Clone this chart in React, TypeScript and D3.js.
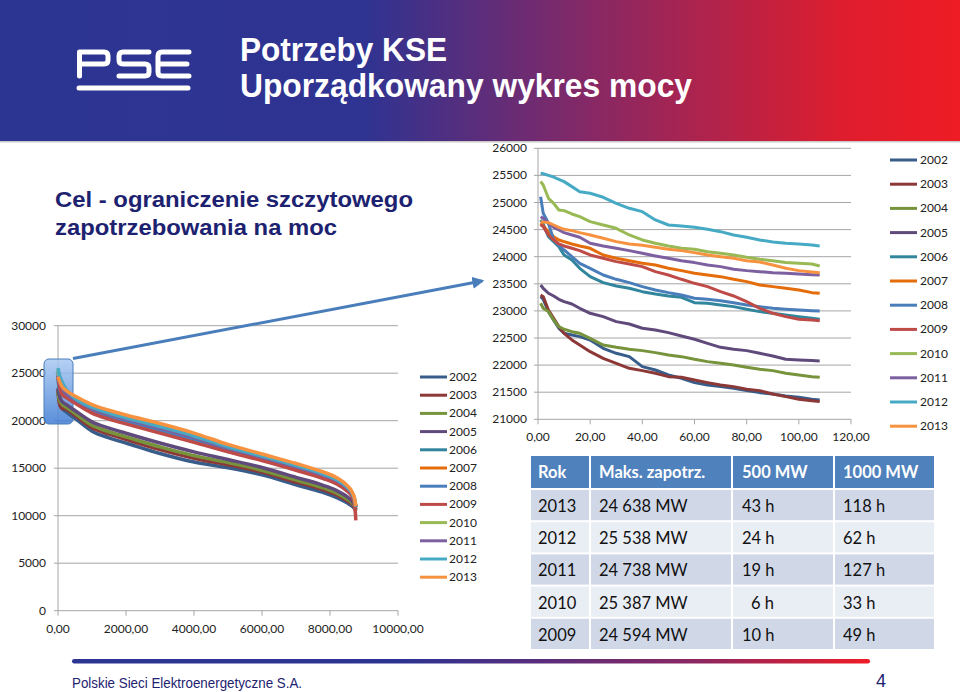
import React, { useEffect } from 'react';
import * as d3 from 'd3';

const YEARS = ['2002', '2003', '2004', '2005', '2006', '2007', '2008', '2009', '2010', '2011', '2012', '2013'];
const COLORS = ['#385D8A', '#8C3836', '#77933C', '#5F4A7B', '#31859C', '#E46C0A', '#4A7EBB', '#BE4B48', '#98B954', '#7D60A0', '#46AAC5', '#F69240'];

// Left chart: ordered load curve over the whole year (hours)
const LEFT_HOURS = [0, 30, 100, 250, 500, 1000, 1500, 2000, 3000, 4000, 5000, 6000, 7000, 7800, 8200, 8500, 8650, 8730, 8760];
const L2002 = [23200, 22220, 21400, 20900, 20250, 18900, 18200, 17650, 16550, 15650, 15050, 14300, 13250, 12450, 11900, 11350, 11000, 10700, 10500];
const L2003 = [23300, 22033, 21350, 21190, 20560, 19260, 18580, 18030, 16960, 16050, 15370, 14590, 13540, 12730, 12170, 11590, 11200, 10830, 10560];
const L2004 = [23130, 22328, 21800, 21395, 20770, 19520, 18840, 18300, 17240, 16320, 15590, 14780, 13750, 12920, 12360, 11760, 11330, 10920, 10610];
const L2005 = [23480, 22802, 22095, 21690, 21070, 19880, 19215, 18680, 17650, 16720, 15910, 15070, 14040, 13200, 12635, 12000, 11525, 11050, 10680];
const L2006 = [24680, 23460, 22880, 22520, 21940, 20920, 20290, 19770, 18820, 17850, 16810, 15880, 14870, 14000, 13410, 12680, 12080, 11420, 10860];
const L2007 = [24620, 23970, 23390, 22590, 22010, 21000, 20375, 19860, 18910, 17940, 16890, 15950, 14940, 14060, 13475, 12740, 12125, 11450, 10880];
const L2008 = [25130, 23583, 23017, 22655, 22080, 21080, 20460, 19950, 19010, 18030, 16960, 16020, 15000, 14130, 13540, 12790, 12170, 11480, 10900];
const L2009 = [24594, 23909, 22845, 22430, 21850, 20800, 20170, 19660, 18690, 17720, 16720, 15800, 14780, 13910, 13330, 12610, 12020, 11000, 9500];
const L2010 = [25387, 24524, 23878, 22990, 22440, 21500, 20900, 20390, 19480, 18490, 17330, 16350, 15340, 14450, 13850, 13070, 12400, 11630, 10970];
const L2011 = [24738, 24155, 23681, 22810, 22250, 21280, 20670, 20160, 19230, 18240, 17130, 16170, 15160, 14280, 13690, 12920, 12280, 11550, 10930];
const L2012 = [25538, 24985, 24235, 23250, 22365, 21420, 20810, 20305, 19385, 18395, 17255, 16280, 15275, 14385, 13790, 13015, 12350, 11600, 10950];
const L2013 = [24638, 24278, 23706, 23150, 22600, 21700, 21100, 20600, 19700, 18700, 17500, 16500, 15500, 14600, 14000, 13200, 12500, 11700, 11000];

// Right chart: first 108 hours of the ordered curve
const RIGHT_HOURS = [1, 2, 4, 6, 8, 10, 13, 16, 20, 25, 30, 35, 40, 45, 50, 55, 60, 65, 70, 75, 80, 85, 90, 95, 100, 105, 108];
const R2002 = [23263, 23214, 22987, 22830, 22679, 22587, 22556, 22525, 22464, 22310, 22218, 22156, 21972, 21910, 21818, 21756, 21677, 21633, 21603, 21572, 21529, 21492, 21467, 21430, 21406, 21369, 21357];
const R2003 = [23294, 23263, 23017, 22863, 22710, 22587, 22464, 22371, 22248, 22125, 22033, 21941, 21898, 21849, 21787, 21775, 21726, 21677, 21633, 21603, 21554, 21529, 21467, 21418, 21369, 21344, 21326];
const R2004 = [23140, 23048, 22987, 22833, 22710, 22661, 22617, 22587, 22494, 22371, 22328, 22292, 22267, 22230, 22187, 22156, 22107, 22064, 22033, 22002, 21959, 21923, 21898, 21849, 21818, 21787, 21775];
const R2005 = [23478, 23417, 23325, 23275, 23214, 23171, 23128, 23048, 22956, 22894, 22802, 22759, 22679, 22648, 22599, 22538, 22476, 22402, 22328, 22292, 22267, 22218, 22169, 22107, 22095, 22083, 22076];
const R2006 = [24678, 24600, 24370, 24278, 24186, 24032, 23940, 23786, 23632, 23522, 23460, 23417, 23355, 23312, 23275, 23251, 23152, 23140, 23109, 23079, 23030, 22987, 22956, 22925, 22894, 22863, 22845];
const R2007 = [24616, 24567, 24462, 24370, 24309, 24278, 24235, 24198, 24155, 24032, 23970, 23927, 23878, 23847, 23786, 23743, 23694, 23663, 23632, 23583, 23540, 23478, 23448, 23417, 23386, 23337, 23325];
const R2008 = [25108, 24801, 24616, 24309, 24216, 24124, 24001, 23878, 23786, 23663, 23583, 23522, 23448, 23386, 23337, 23294, 23232, 23214, 23189, 23152, 23109, 23079, 23048, 23030, 23017, 23005, 23000];
const R2009 = [24594, 24555, 24401, 24309, 24235, 24198, 24155, 24112, 24032, 23970, 23909, 23866, 23817, 23724, 23663, 23583, 23509, 23448, 23355, 23275, 23171, 23048, 22956, 22894, 22845, 22833, 22820];
const R2010 = [25387, 25323, 25077, 24985, 24862, 24850, 24788, 24739, 24647, 24585, 24524, 24401, 24309, 24247, 24198, 24155, 24137, 24093, 24063, 24032, 23989, 23952, 23927, 23891, 23878, 23866, 23829];
const R2011 = [24738, 24708, 24616, 24542, 24493, 24444, 24401, 24358, 24247, 24198, 24155, 24112, 24063, 24014, 23970, 23927, 23891, 23847, 23817, 23768, 23743, 23724, 23706, 23694, 23681, 23669, 23663];
const R2012 = [25538, 25530, 25500, 25470, 25428, 25385, 25293, 25200, 25170, 25096, 24985, 24893, 24831, 24678, 24585, 24567, 24542, 24505, 24462, 24401, 24358, 24309, 24272, 24247, 24235, 24216, 24198];
const R2013 = [24638, 24638, 24629, 24585, 24542, 24505, 24481, 24444, 24401, 24339, 24278, 24235, 24210, 24173, 24137, 24112, 24075, 24032, 24001, 23970, 23927, 23903, 23847, 23786, 23743, 23718, 23706];

const LEFT_SERIES = [L2002, L2003, L2004, L2005, L2006, L2007, L2008, L2009, L2010, L2011, L2012, L2013];
const RIGHT_SERIES = [R2002, R2003, R2004, R2005, R2006, R2007, R2008, R2009, R2010, R2011, R2012, R2013];

const LEFT_Y_TICKS = [0, 5000, 10000, 15000, 20000, 25000, 30000];
const LEFT_X_TICKS = [0, 2000, 4000, 6000, 8000, 10000];
const RIGHT_Y_TICKS = [21000, 21500, 22000, 22500, 23000, 23500, 24000, 24500, 25000, 25500, 26000];
const RIGHT_X_TICKS = [0, 20, 40, 60, 80, 100, 120];

const TABLE_HEADER = ['Rok', 'Maks. zapotrz.', '500 MW', '1000 MW'];
const TABLE_YEARS = ['2013', '2012', '2011', '2010', '2009'];
const TABLE_MAX = ['24 638 MW', '25 538 MW', '24 738 MW', '25 387 MW', '24 594 MW'];
const TABLE_500 = ['43 h', '24 h', '19 h', '6 h', '10 h'];
const TABLE_1000 = ['118 h', '62 h', '127 h', '33 h', '49 h'];

const fmtX = (d: number) => d.toFixed(2).replace('.', ',');
const TICK_FONT = 'Lato, "Open Sans", sans-serif';
const ARIAL = "'Liberation Sans', Arial, sans-serif";
const GRID = '#a6a6a6';

export default function App() {
  useEffect(() => {
    document.body.style.margin = '0';
  }, []);

  const xL = d3.scaleLinear().domain([0, 10000]).range([58, 398]);
  const yL = d3.scaleLinear().domain([0, 30000]).range([610.7, 325.7]);
  const xR = d3.scaleLinear().domain([0, 120]).range([538, 851]);
  const yR = d3.scaleLinear().domain([21000, 26000]).range([419.3, 148.3]);

  const lineL = d3.line<number>().x((_, i) => xL(LEFT_HOURS[i])).y((d) => yL(d)).curve(d3.curveMonotoneX);
  const lineR = d3.line<number>().x((_, i) => xR(RIGHT_HOURS[i])).y((d) => yR(d)).curve(d3.curveLinear);

  const colX = [530, 590, 732, 834, 935];
  const textX = [538, 599, 742, 843];
  const headTop = 456;
  const headH = 32;
  const rowH = 32.2;
  const rows = TABLE_YEARS.map((y, i) => [y, TABLE_MAX[i], TABLE_500[i], TABLE_1000[i]]);

  return (
    <svg width={960} height={692} style={{ display: 'block' }} xmlns="http://www.w3.org/2000/svg">
      <defs>
        <linearGradient id="hdr" x1="0" y1="0" x2="1" y2="0">
          <stop offset="0" stopColor="#2c3592" />
          <stop offset="0.38" stopColor="#2f3391" />
          <stop offset="0.62" stopColor="#882864" />
          <stop offset="0.88" stopColor="#df1d2e" />
          <stop offset="1" stopColor="#ee1c25" />
        </linearGradient>
        <linearGradient id="ftr" gradientUnits="userSpaceOnUse" x1="73" y1="0" x2="869" y2="0">
          <stop offset="0" stopColor="#2c3592" />
          <stop offset="0.42" stopColor="#2e3391" />
          <stop offset="0.78" stopColor="#8a2762" />
          <stop offset="1" stopColor="#ee1c25" />
        </linearGradient>
        <linearGradient id="hl" x1="0" y1="0" x2="0" y2="1">
          <stop offset="0" stopColor="#a9c9f2" />
          <stop offset="1" stopColor="#3d7bd3" />
        </linearGradient>
        <marker id="arr" viewBox="0 0 10 10" refX="8" refY="5" markerWidth="4" markerHeight="4" orient="auto">
          <path d="M0,0 L10,5 L0,10 z" fill="#4a7ebb" />
        </marker>
      </defs>

      <rect x={0} y={0} width={960} height={692} fill="#ffffff" />

      {/* Header */}
      <rect x={0} y={0} width={960} height={141} fill="url(#hdr)" />
      <rect x={0} y={141} width={960} height={1.5} fill="#c9c9c9" />
      <g fill="none" stroke="#ffffff" strokeWidth={5} strokeLinecap="round" strokeLinejoin="round">
        <path d="M79.5 76 V52 H104 Q108 52 108 56 V60 Q108 64 104 64 H79.5" />
        <path d="M149 52 H123 Q119 52 119 56 V60 Q119 64 123 64 H145 Q149 64 149 68 V72 Q149 76 145 76 H119" />
        <path d="M189 52 H162 Q158 52 158 56 V72 Q158 76 162 76 H189 M158 64 H187" />
        <path d="M79 88 H188" />
      </g>
      <text x={240} y={61} fill="#ffffff" fontFamily={ARIAL} fontWeight="bold" fontSize={33} textLength={207} lengthAdjust="spacingAndGlyphs">Potrzeby KSE</text>
      <text x={240} y={97} fill="#ffffff" fontFamily={ARIAL} fontWeight="bold" fontSize={33} textLength={452} lengthAdjust="spacingAndGlyphs">Uporządkowany wykres mocy</text>

      {/* Left subtitle */}
      <text x={55} y={207} fill="#1d2270" fontFamily={ARIAL} fontWeight="bold" fontSize={22} textLength={358} lengthAdjust="spacingAndGlyphs">Cel - ograniczenie szczytowego</text>
      <text x={55} y={235} fill="#1d2270" fontFamily={ARIAL} fontWeight="bold" fontSize={22} textLength={282} lengthAdjust="spacingAndGlyphs">zapotrzebowania na moc</text>

      {/* Left chart grid and axes */}
      {LEFT_Y_TICKS.map((t) => (
        <g key={'ly' + t}>
          {t > 0 && <line x1={xL(0)} x2={xL(10000)} y1={yL(t)} y2={yL(t)} stroke={GRID} strokeWidth={1} />}
          <line x1={xL(0) - 4} x2={xL(0)} y1={yL(t)} y2={yL(t)} stroke={GRID} strokeWidth={1} />
          <text x={46} y={yL(t) + 4} textAnchor="end" fontFamily={TICK_FONT} fontSize={12} fill="#222">{t}</text>
        </g>
      ))}
      <line x1={xL(0)} x2={xL(0)} y1={yL(30000)} y2={yL(0)} stroke={GRID} strokeWidth={1} />
      <line x1={xL(0)} x2={xL(10000)} y1={yL(0)} y2={yL(0)} stroke={GRID} strokeWidth={1} />
      {LEFT_X_TICKS.map((t) => (
        <g key={'lx' + t}>
          <line x1={xL(t)} x2={xL(t)} y1={yL(0)} y2={yL(0) + 5} stroke={GRID} strokeWidth={1} />
          <text x={xL(t)} y={633} textAnchor="middle" fontFamily={TICK_FONT} fontSize={12} fill="#222">{fmtX(t)}</text>
        </g>
      ))}

      {/* Highlight box */}
      <rect x={44} y={359} width={29} height={65} rx={5} fill="url(#hl)" fillOpacity={0.85} stroke="#4a7ebb" strokeWidth={1} />

      {LEFT_SERIES.map((s, i) => (
        <path key={'lp' + i} d={lineL(s) || ''} fill="none" stroke={COLORS[i]} strokeWidth={3.5} strokeLinejoin="round" />
      ))}

      {/* Left legend */}
      {YEARS.map((y, i) => (
        <g key={'lg' + y}>
          <line x1={420} x2={447} y1={377 + i * 18.2} y2={377 + i * 18.2} stroke={COLORS[i]} strokeWidth={3} />
          <text x={449} y={377 + i * 18.2 + 4} fontFamily={TICK_FONT} fontSize={12} fill="#222">{y}</text>
        </g>
      ))}

      {/* Arrow */}
      <line x1={73} y1={358.5} x2={482} y2={281} stroke="#4a7ebb" strokeWidth={3} markerEnd="url(#arr)" />

      {/* Right chart grid and axes */}
      {RIGHT_Y_TICKS.map((t) => (
        <g key={'ry' + t}>
          {t > 21000 && <line x1={xR(0)} x2={xR(120)} y1={yR(t)} y2={yR(t)} stroke={GRID} strokeWidth={1} />}
          <line x1={xR(0) - 4} x2={xR(0)} y1={yR(t)} y2={yR(t)} stroke={GRID} strokeWidth={1} />
          <text x={527} y={yR(t) + 4} textAnchor="end" fontFamily={TICK_FONT} fontSize={12} fill="#222">{t}</text>
        </g>
      ))}
      <line x1={xR(0)} x2={xR(0)} y1={yR(26000)} y2={yR(21000)} stroke={GRID} strokeWidth={1} />
      <line x1={xR(0)} x2={xR(120)} y1={yR(21000)} y2={yR(21000)} stroke={GRID} strokeWidth={1} />
      {RIGHT_X_TICKS.map((t) => (
        <g key={'rx' + t}>
          <line x1={xR(t)} x2={xR(t)} y1={yR(21000)} y2={yR(21000) + 5} stroke={GRID} strokeWidth={1} />
          <text x={xR(t)} y={441} textAnchor="middle" fontFamily={TICK_FONT} fontSize={12} fill="#222">{fmtX(t)}</text>
        </g>
      ))}
      {RIGHT_SERIES.map((s, i) => (
        <path key={'rp' + i} d={lineR(s) || ''} fill="none" stroke={COLORS[i]} strokeWidth={3} strokeLinejoin="round" />
      ))}

      {/* Right legend */}
      {YEARS.map((y, i) => (
        <g key={'rg' + y}>
          <line x1={890} x2={917} y1={160 + i * 24.2} y2={160 + i * 24.2} stroke={COLORS[i]} strokeWidth={3} />
          <text x={920} y={160 + i * 24.2 + 4} fontFamily={TICK_FONT} fontSize={12} fill="#222">{y}</text>
        </g>
      ))}

      {/* Table */}
      {TABLE_HEADER.map((h, c) => (
        <g key={'th' + c}>
          <rect x={colX[c] + 1} y={headTop} width={colX[c + 1] - colX[c] - 2} height={headH} fill="#4f81bd" />
          <text x={textX[c]} y={headTop + 22} fontFamily={TICK_FONT} fontWeight="bold" fontSize={16.5} fill="#ffffff">{h}</text>
        </g>
      ))}
      {rows.map((r, ri) => (
        <g key={'tr' + ri}>
          {r.map((v, c) => (
            <g key={'td' + c}>
              <rect x={colX[c] + 1} y={headTop + headH + 2 + ri * rowH} width={colX[c + 1] - colX[c] - 2} height={rowH - 2} fill={ri % 2 === 0 ? '#d0d8e8' : '#e9edf4'} />
              <text x={textX[c] + (c === 2 && v.length < 4 ? 9 : 0)} y={headTop + headH + 2 + ri * rowH + 22} fontFamily={TICK_FONT} fontSize={16.5} fill="#111">{v}</text>
            </g>
          ))}
        </g>
      ))}

      {/* Footer */}
      <rect x={72} y={659} width={798} height={4.5} rx={2.2} fill="url(#ftr)" />
      <text x={72} y={688} fill="#1d2270" fontFamily={ARIAL} fontSize={14} textLength={230} lengthAdjust="spacingAndGlyphs">Polskie Sieci Elektroenergetyczne S.A.</text>
      <text x={876} y={687} fill="#1d2270" fontFamily={ARIAL} fontSize={18}>4</text>
    </svg>
  );
}
